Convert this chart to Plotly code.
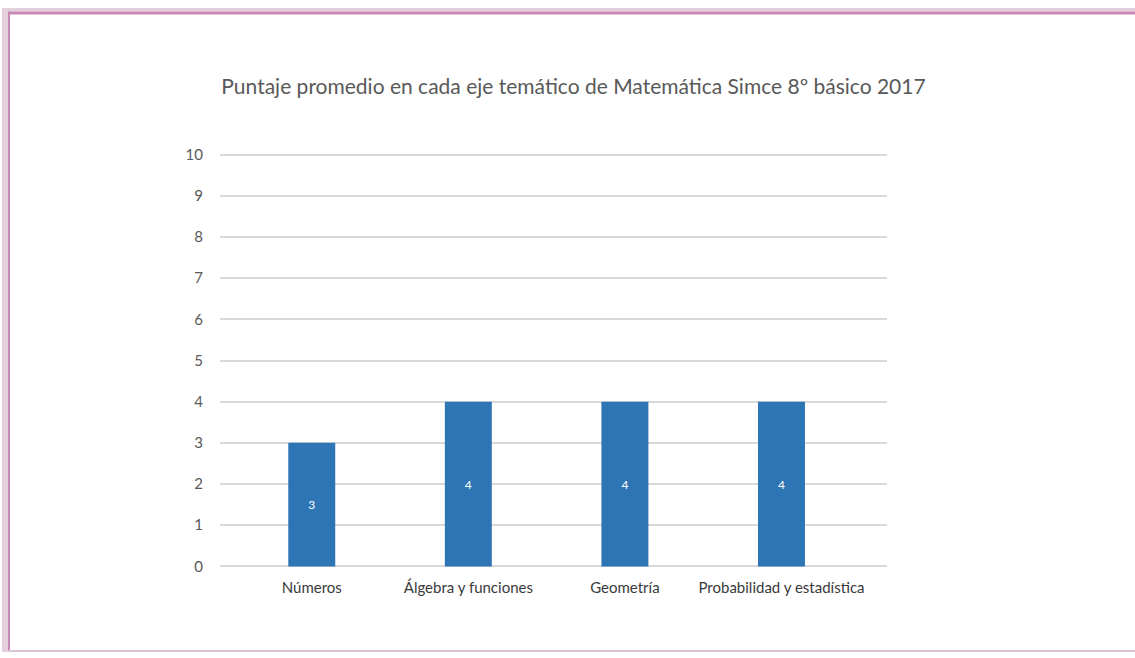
import plotly.graph_objects as go

categories = ["Números", "Álgebra y funciones", "Geometría", "Probabilidad y estadística"]
values = [3, 4, 4, 4]
y_ticks = list(range(0, 11))

W, H = 1135, 658

# observed vertical mapping of the rendered picture: y_obs ~= 0.977 * y_fig + 7.6
def fy(y_ref):
    return max(0.0, min(H, (y_ref - 7.6) / 0.977))

def px(x):
    return x / W

def py(y_ref):
    return 1 - fy(y_ref) / H

def pyf(y_fig):
    return 1 - y_fig / H

fig = go.Figure()
fig.add_trace(go.Bar(
    x=categories,
    y=values,
    marker=dict(color="#2E75B6", line=dict(width=0)),
    width=0.30,
    text=[str(v) for v in values],
    textposition="inside",
    insidetextanchor="middle",
    textfont=dict(color="white", size=12, family="Lato"),
    textangle=0,
    hoverinfo="x+y",
))

shapes = [
    dict(type="rect", xref="paper", yref="paper", x0=px(2), x1=px(1135), y0=py(11), y1=1,
         fillcolor="#E4D0DD", line=dict(width=0), layer="above"),
    dict(type="rect", xref="paper", yref="paper", x0=px(2), x1=px(8), y0=0, y1=1,
         fillcolor="#E4D0DD", line=dict(width=0), layer="above"),
    dict(type="rect", xref="paper", yref="paper", x0=px(8), x1=px(1135), y0=py(14), y1=py(11),
         fillcolor="#C889B6", line=dict(width=0), layer="above"),
    dict(type="rect", xref="paper", yref="paper", x0=px(8), x1=px(10), y0=0, y1=py(11),
         fillcolor="#C889B6", line=dict(width=0), layer="above"),
    dict(type="rect", xref="paper", yref="paper", x0=px(8), x1=px(1135), y0=0, y1=pyf(656),
         fillcolor="#DCC3D4", line=dict(width=0), layer="above"),
]

unit = 41.1
fig.update_layout(
    width=W, height=H,
    margin=dict(l=0, r=0, t=0, b=0),
    paper_bgcolor="white",
    plot_bgcolor="white",
    showlegend=False,
    font=dict(family="Lato", color="#595959"),
    title=dict(
        text="Puntaje promedio en cada eje temático de Matemática Simce 8º básico 2017",
        x=px(573.5), y=py(86), xref="paper", yref="paper",
        xanchor="center", yanchor="middle",
        font=dict(family="Lato", size=21, color="#595959"),
    ),
    xaxis=dict(
        domain=[px(220), px(886.7)],
        range=[-0.586, 3.672],
        showgrid=False, zeroline=False, showline=False,
        ticks="",
        tickfont=dict(family="Lato", size=15, color="#3A3A3A"),
        ticklabelstandoff=9,
    ),
    yaxis=dict(
        domain=[py(565 + 0.05 * unit), py(154 - 0.05 * unit)],
        range=[-0.05, 10.05],
        tickvals=y_ticks,
        ticktext=[str(t) for t in y_ticks],
        showgrid=True, gridcolor="#D9D9D9", gridwidth=1.5,
        zeroline=False,
        showline=False, ticks="",
        tickfont=dict(family="Lato", size=15, color="#595959"),
        ticklabelstandoff=16,
    ),
    shapes=shapes,
    bargap=0.7,
)

post = (
    "var st=document.createElement('style');"
    "st.textContent='html,body{margin:0!important;padding:0!important;overflow:hidden!important;height:100%;}"
    ".plotly-graph-div{position:fixed!important;top:0!important;left:0!important;}';"
    "document.head.appendChild(st);"
)

fig.write_html(
    "out.html",
    config={"displayModeBar": False},
    post_script=post,
)
